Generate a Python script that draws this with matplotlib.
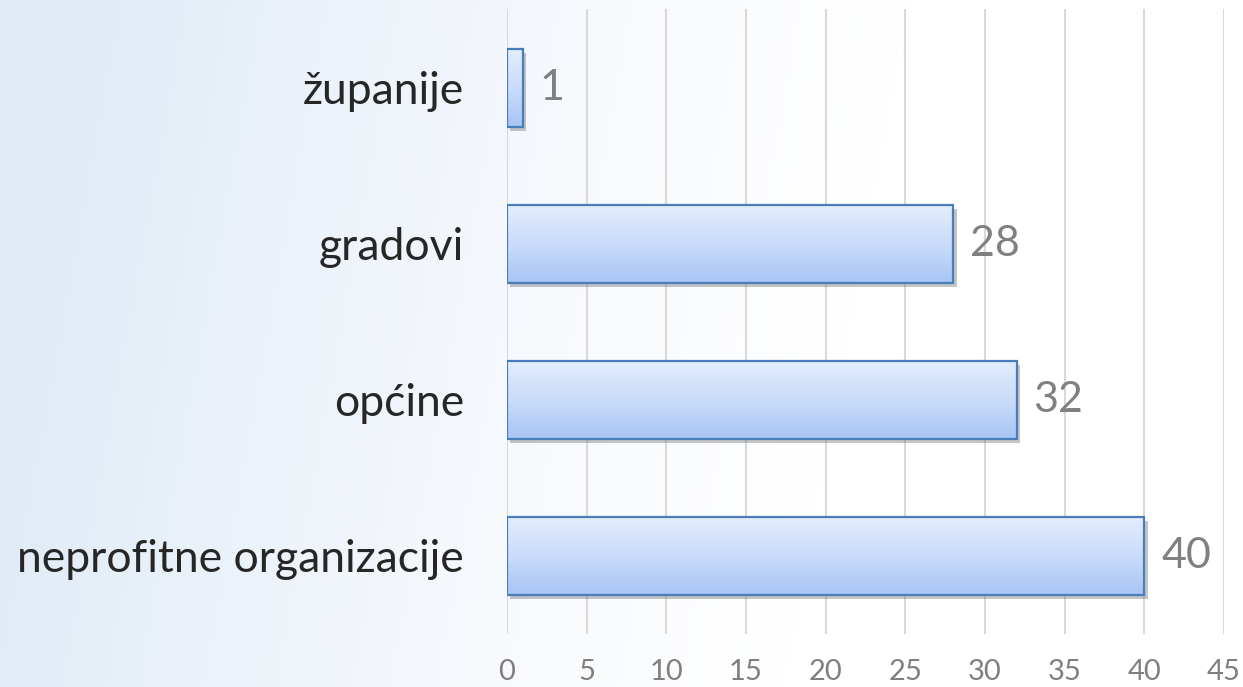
import numpy as np
import matplotlib
matplotlib.use("Agg")
import matplotlib.pyplot as plt
import matplotlib.patheffects as pe
from matplotlib.colors import LinearSegmentedColormap

categories = ["županije", "gradovi", "općine", "neprofitne organizacije"]
values = [1, 28, 32, 40]
xticks = [0, 5, 10, 15, 20, 25, 30, 35, 40, 45]

plt.rcParams['font.family'] = ['Lato', 'DejaVu Sans']

fig = plt.figure(figsize=(12.43, 6.87), dpi=100)

# background gradient
bg = fig.add_axes([0, 0, 1, 1], zorder=-10)
bg_cmap = LinearSegmentedColormap.from_list("bg", ["#e0ebf6", "#edf3fa", "#f8fafd", "#ffffff"])
gx = np.linspace(0, 1, 400)
gy = np.linspace(0, 1, 200)
GX, GY = np.meshgrid(gx, gy)
G = np.clip(GX * 1.5 - GY * 0.15 + 0.05, 0, 1)
bg.imshow(G, cmap=bg_cmap, aspect='auto', extent=[0, 1, 0, 1], origin='lower')
bg.axis('off')

ax = fig.add_axes([0.4079, 0.0771, 0.9847 - 0.4079, 0.9862 - 0.0771])
ax.patch.set_alpha(0)
ypos = np.arange(len(categories))
bars = ax.barh(ypos, values, height=0.5, color='#c8dbf8', edgecolor='none', zorder=3,
               path_effects=[pe.SimplePatchShadow(offset=(2.5, -3), shadow_rgbFace='#6f6f6f', alpha=0.4), pe.Normal()])

bar_cmap = LinearSegmentedColormap.from_list("bar", ["#e3edfd", "#cadcfa", "#a8c5f5"])
grad = np.linspace(0, 1, 100).reshape(-1, 1)
for b in bars:
    x0, y0 = b.get_x(), b.get_y()
    w, h = b.get_width(), b.get_height()
    im = ax.imshow(grad, cmap=bar_cmap, aspect='auto', extent=[x0, x0 + w, y0 + h, y0],
                   origin='upper', zorder=4)
    im.set_clip_path(b)
ax.barh(ypos, values, height=0.5, fill=False, edgecolor='#4a7ebb', linewidth=1.6, zorder=5)

ax.set_xlim(0, 45)
ax.set_ylim(len(categories) - 0.5, -0.5)
ax.set_xticks(xticks)
ax.set_yticks(ypos)
ax.set_yticklabels(categories, fontsize=32, color='#262626')
ax.tick_params(axis='y', length=0, pad=31)
ax.tick_params(axis='x', length=0, pad=18, labelsize=21, labelcolor='#7f7f7f')
for s in ax.spines.values():
    s.set_visible(False)
ax.grid(axis='x', color='#d9d9d9', linewidth=1.5, zorder=0)
ax.set_axisbelow(True)

for yv, v in zip(ypos, values):
    ax.annotate(str(v), (v, yv), xytext=(12, 0), textcoords='offset points',
                va='center', ha='left', fontsize=31, color='#808080', zorder=6)

fig.savefig("out.png", dpi=100)
